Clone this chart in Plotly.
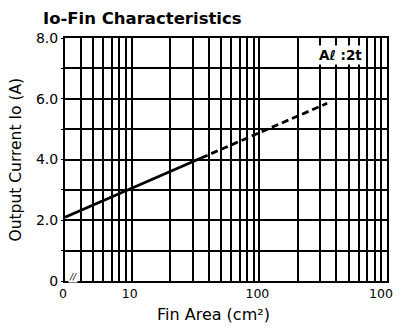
import plotly.graph_objects as go
import math

# Data
solid_x = [3, 10, 35]
solid_y = [2.1, 3.05, 4.05]
dash_x = [35, 100, 340]
dash_y = [4.05, 4.88, 5.85]

x_grid = [3, 4, 5, 6, 7, 8, 9, 10, 20, 30, 40, 50, 60, 70, 80, 90,
          100, 200, 300, 400, 500, 600, 700, 800, 900, 1000]
x_labels = {3: "0", 10: "10", 100: "100", 1000: "1000"}
y_grid = [0, 1, 2, 3, 4, 5, 6, 7, 8]
y_labels = {0: "0", 2: "2.0", 4: "4.0", 6: "6.0", 8: "8.0"}

FONT = "DejaVu Sans"
# The page body has an 8px margin, so the figure is 8px smaller than the window
OFF = 8
W, H = 401 - OFF, 331 - OFF
L, R, T, B = 65 - OFF, 14, 38.3 - OFF, 49.5
PW, PH = W - L - R, H - T - B


def px_x(x):
    return (x - OFF - L) / PW


def px_y(y):
    return 1 - (y - OFF - T) / PH


fig = go.Figure()
fig.add_trace(go.Scatter(x=solid_x, y=solid_y, mode="lines",
                         line=dict(color="black", width=2.8), showlegend=False))
fig.add_trace(go.Scatter(x=dash_x, y=dash_y, mode="lines",
                         line=dict(color="black", width=2.8, dash="7px,4px"),
                         showlegend=False))

fig.update_layout(
    width=W, height=H,
    margin=dict(l=L, r=R, t=T, b=B),
    paper_bgcolor="white", plot_bgcolor="white",
    font=dict(family=FONT, color="black", size=13),
    xaxis=dict(
        type="log", range=[math.log10(3) - 0.0005, 3.0005],
        tickmode="array", tickvals=x_grid,
        ticktext=[x_labels.get(v, "") for v in x_grid],
        showgrid=True, gridcolor="black", gridwidth=1.5,
        showline=True, linecolor="black", linewidth=2, mirror=True,
        ticks="", zeroline=False, automargin=False,
        ticklabeloverflow="allow", ticklabelshift=-2,
        tickfont=dict(size=12.5),
    ),
    yaxis=dict(
        range=[0, 8],
        tickmode="array", tickvals=y_grid,
        ticktext=[y_labels.get(v, "") for v in y_grid],
        showgrid=True, gridcolor="black", gridwidth=1.5,
        showline=True, linecolor="black", linewidth=2, mirror=True,
        ticks="outside", ticklen=2, tickcolor="black",
        zeroline=False, automargin=False,
        tickfont=dict(size=14),
    ),
)

# Title
fig.add_annotation(xref="paper", yref="paper",
                   x=px_x(41), y=px_y(18.5),
                   xanchor="left", yanchor="middle",
                   text="<b>Io-Fin Characteristics</b>", showarrow=False,
                   font=dict(size=16.5, family=FONT))
# Axis titles
fig.add_annotation(xref="paper", yref="paper",
                   x=px_x(213), y=px_y(315),
                   xanchor="center", yanchor="middle",
                   text="Fin Area (cm²)", showarrow=False,
                   font=dict(size=16, family=FONT))
fig.add_annotation(xref="paper", yref="paper",
                   x=px_x(15), y=0.5,
                   xanchor="center", yanchor="middle", textangle=-90,
                   text="Output Current Io (A)", showarrow=False,
                   font=dict(size=15.5, family=FONT))

fig.add_annotation(x=math.log10(433), y=7.43, xref="x", yref="y",
                   text="<b>Aℓ :2t</b>", showarrow=False,
                   bgcolor="white", borderpad=1,
                   font=dict(size=13.5, family=FONT))
fig.add_annotation(x=math.log10(3.46), y=0.12, xref="x", yref="y",
                   text="<i>//</i>", showarrow=False,
                   bgcolor="white", font=dict(size=9, family=FONT), borderpad=0)

fig.write_html("out.html")
